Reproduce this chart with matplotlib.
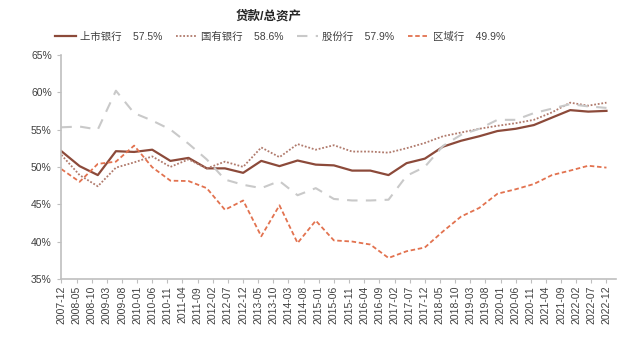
import pandas as pd
import matplotlib
matplotlib.use("Agg")
import matplotlib.pyplot as plt

plt.rcParams['font.family'] = ['Liberation Sans', 'Noto Sans CJK SC', 'DejaVu Sans']

# half-year observation dates
periods = ['2007-12', '2008-06', '2008-12', '2009-06', '2009-12', '2010-06', '2010-12',
           '2011-06', '2011-12', '2012-06', '2012-12', '2013-06', '2013-12', '2014-06',
           '2014-12', '2015-06', '2015-12', '2016-06', '2016-12', '2017-06', '2017-12',
           '2018-06', '2018-12', '2019-06', '2019-12', '2020-06', '2020-12', '2021-06',
           '2021-12', '2022-06', '2022-12']

listed = [52.1, 50.1, 48.9, 52.1, 52.0, 52.3, 50.8, 51.2, 49.8, 49.8, 49.2, 50.8, 50.1,
          50.85, 50.3, 50.2, 49.5, 49.5, 48.9, 50.5, 51.1, 52.7, 53.5, 54.1, 54.8, 55.1,
          55.6, 56.6, 57.6, 57.4, 57.5]
state = [51.6, 48.9, 47.4, 49.9, 50.6, 51.4, 50.0, 51.0, 49.8, 50.7, 50.0, 52.6, 51.3,
         53.05, 52.3, 52.9, 52.05, 52.05, 51.9, 52.5, 53.2, 54.1, 54.6, 55.1, 55.5, 55.85,
         56.3, 57.3, 58.6, 58.2, 58.6]
joint = [55.3, 55.4, 55.0, 60.2, 57.2, 56.2, 55.0, 53.1, 51.0, 48.3, 47.6, 47.15, 48.1,
         46.2, 47.15, 45.7, 45.5, 45.5, 45.6, 48.8, 50.0, 52.8, 54.3, 55.1, 56.3, 56.3,
         57.2, 57.8, 58.4, 58.1, 57.9]
regional = [49.7, 48.0, 50.4, 50.7, 52.85, 49.95, 48.15, 48.1, 47.15, 44.25, 45.5, 40.7,
            44.85, 39.8, 42.8, 40.15, 40.0, 39.6, 37.8, 38.7, 39.2, 41.35, 43.35, 44.5,
            46.4, 47.0, 47.7, 48.9, 49.5, 50.15, 49.9]

tick_labels = ['2007-12', '2008-05', '2008-10', '2009-03', '2009-08', '2010-01', '2010-06',
               '2010-11', '2011-04', '2011-09', '2012-02', '2012-07', '2012-12', '2013-05',
               '2013-10', '2014-03', '2014-08', '2015-01', '2015-06', '2015-11', '2016-04',
               '2016-09', '2017-02', '2017-07', '2017-12', '2018-05', '2018-10', '2019-03',
               '2019-08', '2020-01', '2020-06', '2020-11', '2021-04', '2021-09', '2022-02',
               '2022-07', '2022-12']

names = ['上市银行', '国有银行', '股份行', '区域行']
latest = ['57.5%', '58.6%', '57.9%', '49.9%']

x = pd.to_datetime(periods)
xt = pd.to_datetime(tick_labels)

fig = plt.figure(figsize=(6.4, 3.43), dpi=100)
ax = fig.add_axes([0.095, 0.187, 0.868, 0.653])

h1, = ax.plot(x, listed, color='#8C4A3A', lw=1.6, ls='-')
h2, = ax.plot(x, state, color='#B07A6C', lw=1.3, ls=(0, (1, 1)))
h3, = ax.plot(x, joint, color='#C9C9C9', lw=1.5, ls=(0, (5, 4)))
h4, = ax.plot(x, regional, color='#E2724F', lw=1.3, ls=(0, (2.5, 1.5)))

ax.set_ylim(35, 65)
ax.set_yticks(range(35, 66, 5))
ax.set_yticklabels([f'{v}%' for v in range(35, 66, 5)])
ax.set_xlim(pd.Timestamp('2007-11-25'), pd.Timestamp('2023-03-10'))
ax.set_xticks(xt)
ax.set_xticklabels(tick_labels, rotation=90)

for s in ['top', 'right']:
    ax.spines[s].set_visible(False)
for s in ['left', 'bottom']:
    ax.spines[s].set_color('#BFBFBF')
    ax.spines[s].set_linewidth(1.2)
ax.tick_params(axis='both', colors='#BFBFBF', labelcolor='#404040', labelsize=7.5,
               length=3, width=0.8)
ax.tick_params(axis='x', pad=2)

fig.text(0.42, 0.952, '贷款/总资产', ha='center', va='center', fontsize=9,
         fontweight='bold', color='#262626')

labels = [f'{n}    {v}' for n, v in zip(names, latest)]
leg = fig.legend([h1, h2, h3, h4], labels, loc='center', bbox_to_anchor=(0.438, 0.893),
                 ncol=4, frameon=False, fontsize=7.5, handlelength=2.0,
                 columnspacing=1.3, handletextpad=0.4)
for t in leg.get_texts():
    t.set_color('#404040')

fig.savefig('out.png', dpi=100)
